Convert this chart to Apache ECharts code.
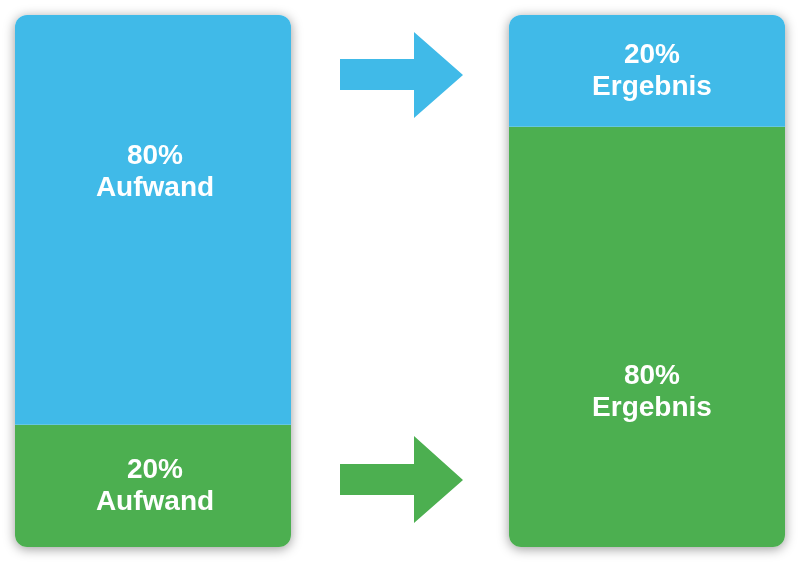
<!DOCTYPE html>
<html>
<head>
<meta charset="utf-8">
<script src="https://cdn.jsdelivr.net/npm/echarts@6/dist/echarts.min.js"></script>
<style>
  html, body { margin: 0; padding: 0; background: #fff; }
  #chart { width: 800px; height: 562px; }
</style>
</head>
<body>
<div id="chart"></div>
<script>
// segment shares as drawn (bottom = green, top = blue)
const bars = ['Aufwand', 'Ergebnis'];
const greenValues = [23, 79];
const blueValues = [77, 21];
const greenLabels = ['20%\nAufwand', '80%\nErgebnis'];
const blueLabels = ['80%\nAufwand', '20%\nErgebnis'];

const BLUE = '#40bae8';
const GREEN = '#4caf50';

const chart = echarts.init(document.getElementById('chart'));

const labelStyle = {
    show: true,
    position: 'inside',
    color: '#fff',
    fontFamily: "'Liberation Sans', Arial, sans-serif",
    fontWeight: 'bold',
    fontSize: 28,
    lineHeight: 32
};

// label offsets for the tall segments (they are not centred in the original)
const greenOffsets = [[2, 0], [5, 55]];
const blueOffsets = [[2, -48], [5, 0]];

const grids = [
    { left: 15, top: 15, width: 276, height: 532 },
    { left: 509, top: 15, width: 276, height: 532 }
];

let series = [];
bars.forEach((name, i) => {
    series.push({
        type: 'bar',
        name: name + '-unten',
        xAxisIndex: i,
        yAxisIndex: i,
        stack: 's' + i,
        barWidth: '100%',
        showBackground: true,
        backgroundStyle: {
            color: '#fff',
            borderRadius: 12,
            shadowBlur: 12,
            shadowOffsetY: 2,
            shadowColor: 'rgba(0,0,0,0.4)'
        },
        itemStyle: { color: GREEN, borderRadius: [0, 0, 12, 12] },
        label: { ...labelStyle, offset: greenOffsets[i], formatter: () => greenLabels[i] },
        data: [greenValues[i]]
    });
    series.push({
        type: 'bar',
        name: name + '-oben',
        xAxisIndex: i,
        yAxisIndex: i,
        stack: 's' + i,
        barWidth: '100%',
        itemStyle: { color: BLUE, borderRadius: [12, 12, 0, 0] },
        label: { ...labelStyle, offset: blueOffsets[i], formatter: () => blueLabels[i] },
        data: [blueValues[i]]
    });
});

const option = {
    animation: false,
    grid: grids,
    xAxis: bars.map((name, i) => ({
        type: 'category',
        gridIndex: i,
        data: [name],
        show: false
    })),
    yAxis: bars.map((name, i) => ({
        type: 'value',
        gridIndex: i,
        min: 0,
        max: 100,
        show: false
    })),
    graphic: [
        {
            type: 'polygon',
            shape: { points: [[340, 59], [414, 59], [414, 32], [463, 75], [414, 118], [414, 90], [340, 90]] },
            style: { fill: BLUE }
        },
        {
            type: 'polygon',
            shape: { points: [[340, 464], [414, 464], [414, 436], [463, 480], [414, 523], [414, 495], [340, 495]] },
            style: { fill: GREEN }
        }
    ],
    series: series
};

chart.setOption(option);
</script>
</body>
</html>
